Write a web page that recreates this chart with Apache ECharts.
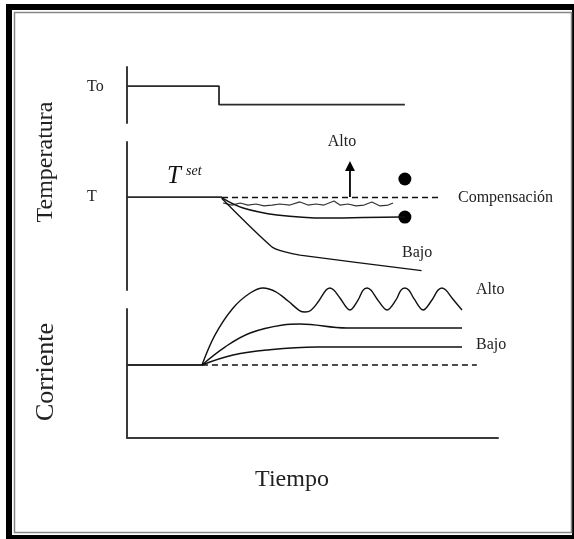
<!DOCTYPE html>
<html>
<head>
<meta charset="utf-8">
<script src="https://cdn.jsdelivr.net/npm/echarts@6/dist/echarts.min.js"></script>
<style>
html,body{margin:0;padding:0;background:#fff;}
#chart{width:574px;height:539px;}
</style>
</head>
<body>
<div id="chart"></div>
<script>
// ---- Data (time in arbitrary units 0..100, values in arbitrary units) ----
// Top panel: outside temperature To (step)
const stepTime = [0, 24.8, 24.8, 74.9];
const stepTemp = [66, 66, 32.7, 32.7];

// Temperature panel
const setTime = [0, 25.6];
const setTemp = [62.8, 62.8];
const compTime = [25.6, 84.9];
const compTemp = [62.5, 62.5];
const noisyTime = [25.9, 28.3, 30.5, 32.6, 34.8, 36.9, 39.1, 41.2, 43.9, 46.6, 48.8, 50.9, 53.1, 55.8, 57.4, 59.6, 61.7, 63.9, 66.0, 68.2, 70.4, 71.7];
const noisyTemp = [58.8, 57.4, 58.8, 57.4, 58.1, 56.8, 57.4, 58.1, 57.4, 59.5, 57.4, 58.1, 57.4, 60.1, 57.4, 58.1, 56.8, 57.4, 59.5, 56.8, 57.4, 58.8];
const midTime = [25.6, 31.3, 40.4, 53.9, 73.6, 74.9];
const midTemp = [62.2, 55.4, 50.7, 48.6, 49.3, 49.3];
const lowTime = [25.5, 39.0, 42.6, 46.6, 79.4];
const lowTemp = [62.0, 29.3, 25.7, 23.6, 13.1];
const dotTime = [74.9, 74.9];
const dotTemp = [75.0, 49.3];
const arrowTime = [60.1, 60.1];
const arrowTemp = [62.8, 83.8];

// Current panel
const baseTime = [0, 20.2];
const baseCur = [56.6, 56.6];
const refTime = [20.2, 94.3];
const refCur = [56.6, 56.6];
const altoTime = [20.2, 23.7, 28.6, 33.2, 36.7, 40.0, 43.5, 46.5, 48.0, 49.5, 51.5, 53.6, 54.7, 55.8, 57.4, 60.1, 62.3, 63.6, 64.7, 65.8, 67.4, 70.1, 72.5, 73.8, 74.9, 76.0, 77.4, 79.8, 82.2, 83.8, 84.9, 86.0, 87.6, 90.3];
const altoCur = [56.6, 79.8, 100.8, 112.4, 116.3, 113.5, 106.0, 98.8, 97.7, 98.8, 105.4, 114.5, 116.3, 114.5, 108.5, 99.2, 107.0, 114.5, 116.3, 114.5, 107.8, 99.2, 107.0, 114.5, 116.3, 114.5, 107.8, 99.2, 107.0, 114.5, 116.3, 114.5, 108.5, 99.2];
const medTime = [20.2, 26.4, 33.2, 42.0, 46.6, 59.3, 90.3];
const medCur = [56.6, 70.5, 81.4, 87.6, 88.4, 85.3, 85.3];
const bajoTime = [20.2, 28.6, 37.7, 51.2, 90.3];
const bajoCur = [56.6, 64.3, 68.2, 70.5, 70.5];

const zip = (a, b) => a.map((v, i) => [v, b[i]]);

const serif = '"Liberation Serif", "Times New Roman", serif';
const ink = '#111';
const axisColor = '#3a3a3a';

function axisX(gi, showLine) {
  return {
    gridIndex: gi, type: 'value', min: 0, max: 100,
    axisLine: {show: showLine, lineStyle: {color: axisColor, width: 2}},
    axisTick: {show: false}, axisLabel: {show: false}, splitLine: {show: false}
  };
}
function axisY(gi) {
  return {
    gridIndex: gi, type: 'value', min: 0, max: 100,
    axisLine: {show: true, onZero: false, lineStyle: {color: axisColor, width: 2}},
    axisTick: {show: false}, axisLabel: {show: false}, splitLine: {show: false}
  };
}
function line(gi, data, opts) {
  opts = opts || {};
  return Object.assign({
    type: 'line', xAxisIndex: gi, yAxisIndex: gi, data: data,
    symbol: 'none', clip: false, silent: true,
    lineStyle: {color: opts.color || ink, width: opts.width || 1.4, type: opts.dash || 'solid'}
  }, opts.extra || {});
}
function txt(text, x, y, size, align, extra) {
  return Object.assign({
    type: 'text', x: x, y: y, silent: true,
    style: {text: text, font: size + 'px ' + serif, fill: '#222', align: align || 'left', verticalAlign: 'middle'}
  }, extra || {});
}

const chart = echarts.init(document.getElementById('chart'), null, {renderer: 'canvas'});
chart.setOption({
  animation: false,
  backgroundColor: '#fff',
  grid: [
    {left: 127, top: 67, width: 371, height: 56},
    {left: 127, top: 142, width: 371, height: 148},
    {left: 127, top: 309, width: 371, height: 129}
  ],
  xAxis: [axisX(0, false), axisX(1, false), axisX(2, true)],
  yAxis: [axisY(0), axisY(1), axisY(2)],
  series: [
    line(0, zip(stepTime, stepTemp), {width: 1.8, color: '#2a2a2a'}),
    line(1, zip(setTime, setTemp), {width: 1.8, color: '#2a2a2a'}),
    line(1, zip(compTime, compTemp), {width: 1.5, dash: [6, 4]}),
    line(1, zip(noisyTime, noisyTemp), {width: 1.2, color: '#333'}),
    line(1, zip(midTime, midTemp), {width: 1.4, extra: {smooth: 0.4}}),
    line(1, zip(lowTime, lowTemp), {width: 1.3, extra: {smooth: 0.25}}),
    {
      type: 'scatter', xAxisIndex: 1, yAxisIndex: 1, data: zip(dotTime, dotTemp),
      symbol: 'circle', symbolSize: 13, itemStyle: {color: '#000', opacity: 1}, silent: true
    },
    {
      type: 'line', xAxisIndex: 1, yAxisIndex: 1, silent: true, clip: false,
      showSymbol: true, showAllSymbol: true,
      lineStyle: {color: '#000', width: 1.8},
      itemStyle: {color: '#000', borderWidth: 0, opacity: 1},
      data: [
        {value: [arrowTime[0], arrowTemp[0]], symbol: 'none'},
        {value: [arrowTime[1], arrowTemp[1]], symbol: 'triangle', symbolSize: [10, 10]}
      ]
    },
    line(2, zip(baseTime, baseCur), {width: 1.8, color: '#2a2a2a'}),
    line(2, zip(refTime, refCur), {width: 1.5, dash: [6, 4]}),
    line(2, zip(altoTime, altoCur), {width: 1.4, extra: {smooth: 0.35}}),
    line(2, zip(medTime, medCur), {width: 1.4, extra: {smooth: 0.4}}),
    line(2, zip(bajoTime, bajoCur), {width: 1.4, extra: {smooth: 0.4}})
  ],
  graphic: [
    {type: 'rect', silent: true, shape: {x: 9, y: 7, width: 566, height: 531}, style: {fill: 'none', stroke: '#000', lineWidth: 6}},
    {type: 'rect', silent: true, shape: {x: 14.5, y: 12.5, width: 557, height: 520}, style: {fill: 'none', stroke: '#888', lineWidth: 1.5}},
    txt('To', 87, 87, 16),
    txt('T', 87, 197, 16),
    {type: 'text', x: 167, y: 189, silent: true,
     style: {text: 'T', font: 'italic 25px ' + serif, fill: '#111', align: 'left', verticalAlign: 'bottom'}},
    {type: 'text', x: 186, y: 171, silent: true,
     style: {text: 'set', font: 'italic 14px ' + serif, fill: '#111', align: 'left', verticalAlign: 'middle'}},
    txt('Alto', 342, 142, 16, 'center'),
    txt('Compensación', 458, 198, 16),
    txt('Bajo', 402, 253, 16),
    txt('Alto', 476, 290, 16),
    txt('Bajo', 476, 345, 16),
    txt('Tiempo', 292, 480, 24, 'center'),
    txt('Temperatura', 46, 162, 24, 'center', {rotation: Math.PI / 2}),
    txt('Corriente', 46, 372, 26, 'center', {rotation: Math.PI / 2})
  ]
});
</script>
</body>
</html>
